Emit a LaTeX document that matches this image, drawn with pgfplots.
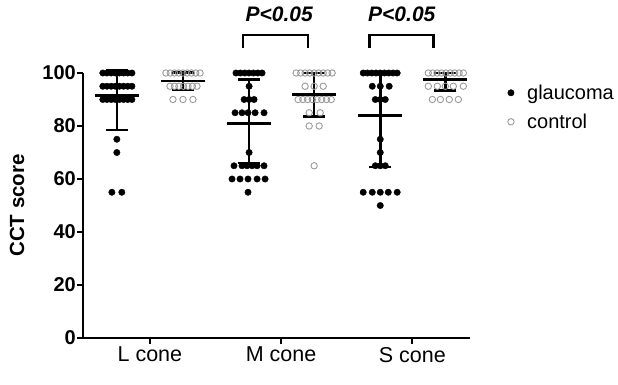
\documentclass[border=0pt]{standalone}
\usepackage{pgfplots}
\pgfplotsset{compat=1.18}
\usepackage{fontspec}
\setmainfont{Liberation Sans}
\definecolor{ctrlgray}{HTML}{9A9A9A}
\begin{document}
\begin{tikzpicture}
\path[use as bounding box] (0,0) rectangle (618pt,384pt);
\begin{axis}[
  at={(83pt,46pt)}, anchor=south west,
  width=387pt, height=265pt, scale only axis,
  xmin=-0.51, xmax=2.44, ymin=0, ymax=100,
  axis x line*=bottom, axis y line*=left,
  axis line style={line width=2.6pt, -},
  ytick={0,20,40,60,80,100},
  xtick={0,1,2}, xticklabels={L cone, M cone, S cone},
  tick style={line width=2.4pt, black},
  tick align=outside, major tick length=6pt,
  /pgf/number format/assume math mode=true,
  yticklabel style={font=\bfseries\fontsize{20}{24}\selectfont, inner sep=1pt},
  xticklabel style={font=\fontsize{21.5}{25}\selectfont, inner sep=3pt},
  ylabel={CCT score},
  every axis y label/.style={at={(axis description cs:-0.1705,0.5)}, rotate=90, anchor=center,
    font=\bfseries\fontsize{20.5}{24}\selectfont},
  clip=false,
  legend style={at={(1.097,0.96)}, anchor=north west, draw=none, fill=none,
    font=\fontsize{20}{24}\selectfont, row sep=11pt, column sep=12pt, inner sep=0pt,
    nodes={inner sep=1pt}},
  legend cell align=left,
]
% glaucoma points
\addplot[only marks, mark=*, mark size=3.2pt, black] coordinates {
 (-0.359,100) (-0.327,100) (-0.295,100) (-0.264,100) (-0.232,100) (-0.201,100) (-0.169,100) (-0.137,100)
 (-0.359,95) (-0.327,95) (-0.295,95) (-0.264,95) (-0.232,95) (-0.201,95) (-0.169,95) (-0.137,95)
 (-0.359,90) (-0.327,90) (-0.295,90) (-0.264,90) (-0.232,90) (-0.201,90) (-0.169,90) (-0.137,90)
 (-0.252,75) (-0.252,70) (-0.290,55) (-0.214,55)
 (0.656,100) (0.689,100) (0.723,100) (0.756,100) (0.789,100) (0.822,100) (0.855,100)
 (0.756,95)
 (0.718,90) (0.756,90) (0.794,90)
 (0.649,85) (0.702,85) (0.748,85) (0.802,85) (0.870,85)
 (0.756,70)
 (0.641,65) (0.702,65) (0.740,65) (0.779,65) (0.817,65) (0.870,65)
 (0.626,60) (0.687,60) (0.748,60) (0.817,60) (0.878,60)
 (0.748,55)
 (1.626,100) (1.658,100) (1.691,100) (1.723,100) (1.756,100) (1.788,100) (1.821,100) (1.853,100) (1.885,100)
 (1.695,95) (1.756,95) (1.824,95)
 (1.718,90) (1.756,90) (1.794,90)
 (1.756,75) (1.756,70)
 (1.718,65) (1.756,65) (1.794,65)
 (1.626,55) (1.695,55) (1.756,55) (1.817,55) (1.885,55)
 (1.756,50)
};
\addlegendentry{glaucoma}
% control points
\addplot[only marks, mark=o, mark size=3.2pt, ctrlgray, mark options={line width=0.9pt}] coordinates {
 (0.122,100) (0.155,100) (0.187,100) (0.219,100) (0.252,100) (0.284,100) (0.317,100) (0.349,100) (0.382,100)
 (0.153,95) (0.187,95) (0.221,95) (0.256,95) (0.290,95) (0.324,95) (0.359,95)
 (0.176,90) (0.252,90) (0.328,90)
 (1.115,100) (1.149,100) (1.183,100) (1.218,100) (1.252,100) (1.286,100) (1.321,100) (1.355,100) (1.389,100)
 (1.183,95) (1.252,95) (1.321,95)
 (1.130,90) (1.166,90) (1.202,90) (1.238,90) (1.274,90) (1.310,90) (1.346,90) (1.382,90)
 (1.214,85) (1.298,85)
 (1.214,80) (1.290,80)
 (1.252,65)
 (2.122,100) (2.156,100) (2.189,100) (2.223,100) (2.256,100) (2.290,100) (2.323,100) (2.357,100) (2.389,100)
 (2.122,95) (2.191,95) (2.252,95) (2.313,95) (2.389,95)
 (2.153,90) (2.214,90) (2.282,90) (2.351,90)
};
\addlegendentry{control}
% mean and SD
\addplot[forget plot, only marks, mark=-, mark size=22pt, black, mark options={line width=2.6pt},
  error bars/.cd, y dir=both, y explicit,
  error bar style={line width=2.6pt, black},
  error mark options={rotate=90, mark size=11pt, line width=2.6pt, black}]
 coordinates {
 (-0.252,91.5) += (0,9.5) -= (0,13)
 (0.252,97) += (0,3.2) -= (0,3.4)
 (0.756,81) += (0,16.5) -= (0,15)
 (1.252,92) += (0,8) -= (0,8.5)
 (1.756,84) += (0,16) -= (0,19.5)
 (2.252,97.5) += (0,2.5) -= (0,4)
};
% significance brackets
\draw[line width=2.6pt] (axis cs:0.710,109.4) -- (axis cs:0.710,114.3) -- (axis cs:1.206,114.3) -- (axis cs:1.206,109.4);
\draw[line width=2.6pt] (axis cs:1.672,109.4) -- (axis cs:1.672,114.3) -- (axis cs:2.160,114.3) -- (axis cs:2.160,109.4);
\node[font=\bfseries\itshape\fontsize{21}{24}\selectfont] at (axis cs:0.985,122) {P<0.05};
\node[font=\bfseries\itshape\fontsize{21}{24}\selectfont] at (axis cs:1.92,122) {P<0.05};
\end{axis}
\end{tikzpicture}
\end{document}
